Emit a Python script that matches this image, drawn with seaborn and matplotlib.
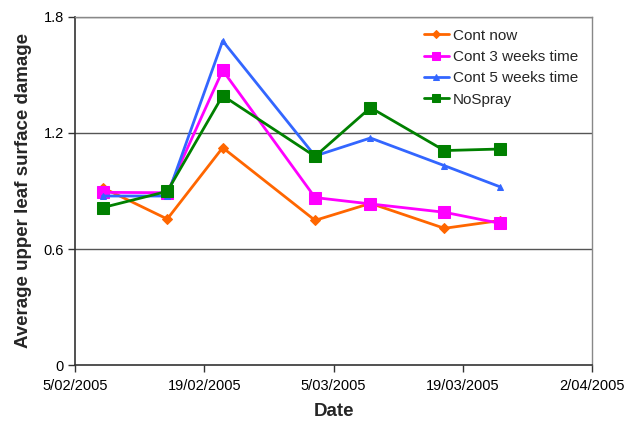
import pandas as pd
import numpy as np
import matplotlib
matplotlib.use("Agg")
import matplotlib.pyplot as plt
import matplotlib.dates as mdates
from matplotlib.ticker import FuncFormatter
import seaborn as sns

# Data
dates = pd.to_datetime(["2005-02-08", "2005-02-15", "2005-02-21", "2005-03-03",
                        "2005-03-09", "2005-03-17", "2005-03-23"])
cont_now = [0.917, 0.755, 1.124, 0.748, 0.836, 0.707, 0.747]
cont_3_weeks = [0.893, 0.891, 1.524, 0.866, 0.833, 0.790, 0.733]
cont_5_weeks = [0.874, 0.874, 1.676, 1.081, 1.174, 1.031, 0.922]
no_spray = [0.814, 0.898, 1.393, 1.079, 1.331, 1.109, 1.117]

series_names = ["Cont now", "Cont 3 weeks time", "Cont 5 weeks time", "NoSpray"]
series_values = [cont_now, cont_3_weeks, cont_5_weeks, no_spray]
colors = ["#FF6600", "#FF00FF", "#3366FF", "#008000"]
markers = ["D", "s", "^", "s"]
marker_sizes = [5, 8, 5, 8]

tick_dates = pd.date_range("2005-02-05", "2005-04-02", freq="14D")

sns.set_style("white")
plt.rcParams["font.family"] = ["Liberation Sans", "DejaVu Sans"]

fig, ax = plt.subplots(figsize=(6.24, 4.23), dpi=100)
fig.subplots_adjust(left=0.120, right=0.949, top=0.960, bottom=0.137)

for name, vals, c, m, ms in zip(series_names, series_values, colors, markers, marker_sizes):
    sns.lineplot(x=dates, y=vals, ax=ax, color=c, marker=m, markersize=ms,
                 markeredgecolor=c, linewidth=2, label=name)

# horizontal gridlines
for y in [0.6, 1.2, 1.8]:
    ax.axhline(y, color="#555555", linewidth=1, zorder=0)

ax.set_ylim(0, 1.8)
ax.set_yticks([0, 0.6, 1.2, 1.8])
ax.set_yticklabels(["0", "0.6", "1.2", "1.8"])
ax.set_xlim(tick_dates[0], tick_dates[-1])
ax.set_xticks(tick_dates)
ax.xaxis.set_major_formatter(FuncFormatter(
    lambda v, p: (lambda d: f"{d.day}/{d.month:02d}/{d.year}")(mdates.num2date(v))))

ax.tick_params(axis="both", labelsize=10.5, direction="out", length=5, width=1,
               colors="#333333", labelcolor="black", bottom=True, left=True)
ax.tick_params(axis="y", pad=3)
ax.tick_params(axis="x", pad=5)

for s in ["left", "bottom"]:
    ax.spines[s].set_color("#333333")
    ax.spines[s].set_linewidth(1.2)
for s in ["right", "top"]:
    ax.spines[s].set_color("#888888")
    ax.spines[s].set_linewidth(1)

ax.set_xlabel("Date", fontsize=13.5, fontweight="bold", labelpad=7)
ax.set_ylabel("Average upper leaf surface damage", fontsize=13.5, fontweight="bold")
ax.yaxis.set_label_coords(-0.083, 0.5)

ax.legend(loc="upper right", bbox_to_anchor=(0.993, 0.997), frameon=False, fontsize=11,
          handlelength=1.63, handletextpad=0.25, labelspacing=0.48, borderaxespad=0.3,
          markerscale=0.75)

plt.savefig("out.png", dpi=100)
